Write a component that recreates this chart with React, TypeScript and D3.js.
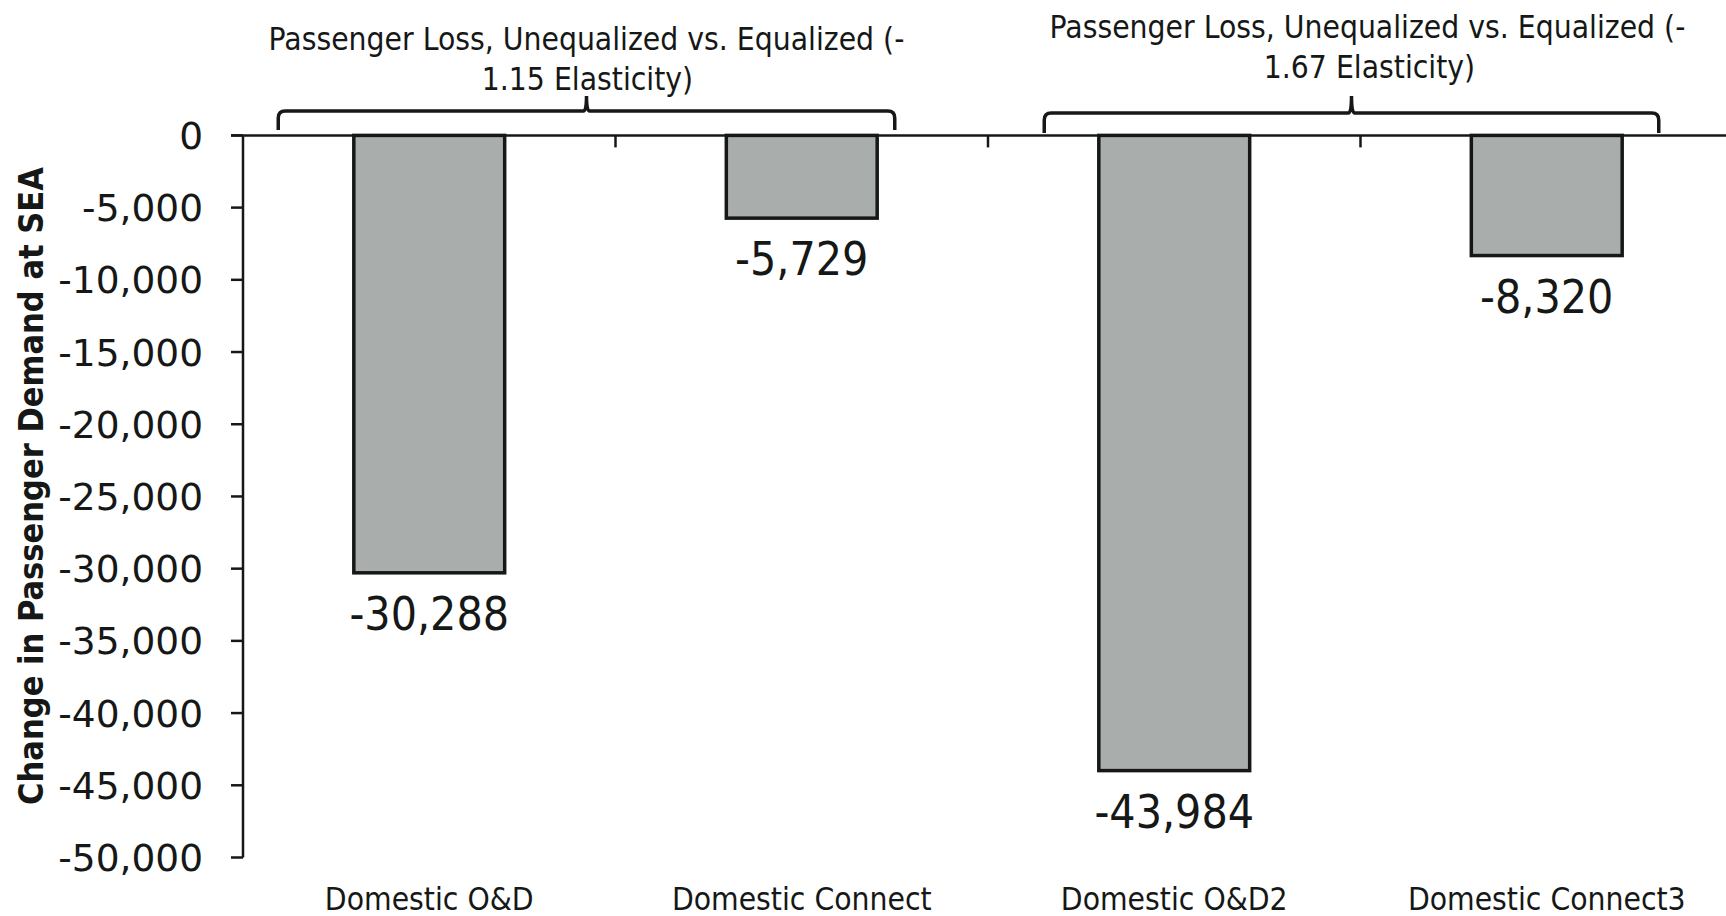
import React from "react";
import * as d3 from "d3";

const categories = ["Domestic O&D", "Domestic Connect", "Domestic O&D2", "Domestic Connect3"];
const values = [-30288, -5729, -43984, -8320];
const yTicks = [0, -5000, -10000, -15000, -20000, -25000, -30000, -35000, -40000, -45000, -50000];
const groupLines = [
  ["Passenger Loss, Unequalized vs. Equalized (-", "1.15 Elasticity)"],
  ["Passenger Loss, Unequalized vs. Equalized (-", "1.67 Elasticity)"],
];
const groupMembers = [
  [0, 1],
  [2, 3],
];
const yTitle = "Change in Passenger Demand at SEA";

const W = 1726;
const H = 916;
const COND = "'DejaVu Sans Condensed', 'DejaVu Sans', sans-serif";
const INK = "#151816";

const locale = d3.formatLocale({
  decimal: ".",
  thousands: ",",
  grouping: [3],
  currency: ["$", ""],
  minus: "-",
});

export default function App() {
  const y = d3.scaleLinear().domain([-50000, 0]).range([857.5, 135.4]);
  const x = d3.scaleBand<string>().domain(categories).range([243, 1733]).padding(0);
  const bw = x.bandwidth();
  const barW = bw * 0.405;
  const fmt = locale.format(",");
  const y0 = y(0);

  // bracket layout relative to bar centers
  const bracketCfg = [
    { l: -151, r: 93, hy: 111, notchTop: 96, endY: 130, t1: 50, t2: 90, dx1: 0, dx2: 1 },
    { l: -130, r: 112, hy: 113, notchTop: 96, endY: 133, t1: 38, t2: 78, dx1: 16, dx2: 18 },
  ];

  return (
    <svg
      width={W}
      height={H}
      style={{ position: "absolute", left: 0, top: 0, display: "block", background: "#fff" }}
    >
      <rect x={0} y={0} width={W} height={H} fill="#fff" />

      {/* bars */}
      {categories.map((c, i) => {
        const cx = (x(c) as number) + bw / 2;
        const v = values[i];
        return (
          <g key={c}>
            <rect
              x={cx - barW / 2}
              y={y(0)}
              width={barW}
              height={y(v) - y(0)}
              fill="#a9aeac"
              stroke={INK}
              strokeWidth={3.5}
            />
            <text
              x={cx}
              y={y(v) + 57}
              textAnchor="middle"
              fontFamily={COND}
              fontSize={46}
              fill={INK}
            >
              {fmt(v)}
            </text>
            <text
              x={cx}
              y={910}
              textAnchor="middle"
              fontFamily={COND}
              fontSize={31.5}
              fill={INK}
            >
              {c}
            </text>
          </g>
        );
      })}

      {/* zero line / x axis */}
      <line x1={231} x2={W} y1={y0} y2={y0} stroke={INK} strokeWidth={2.5} />
      {categories.slice(1).map((c) => (
        <line
          key={"xt" + c}
          x1={x(c) as number}
          x2={x(c) as number}
          y1={y0}
          y2={y0 + 12}
          stroke={INK}
          strokeWidth={2.5}
        />
      ))}

      {/* y axis */}
      <line x1={243} x2={243} y1={y0} y2={y(-50000)} stroke={INK} strokeWidth={2.5} />
      {yTicks.map((t) => (
        <g key={"yt" + t}>
          <line x1={231} x2={243} y1={y(t)} y2={y(t)} stroke={INK} strokeWidth={2.5} />
          <text
            x={203}
            y={y(t)}
            dy="0.36em"
            textAnchor="end"
            fontFamily="'DejaVu Sans', sans-serif"
            fontSize={37.5}
            fill={INK}
          >
            {fmt(t)}
          </text>
        </g>
      ))}

      {/* y title */}
      <text
        transform={`translate(43, 486) rotate(-90)`}
        textAnchor="middle"
        fontFamily={COND}
        fontWeight="bold"
        fontSize={34}
        fill={INK}
      >
        {yTitle}
      </text>

      {/* brackets + group labels */}
      {groupMembers.map((m, gi) => {
        const cfg = bracketCfg[gi];
        const c0 = (x(categories[m[0]]) as number) + bw / 2;
        const c1 = (x(categories[m[m.length - 1]]) as number) + bw / 2;
        const L = c0 + cfg.l;
        const R = c1 + cfg.r;
        const M = (L + R) / 2;
        const r = 7;
        const path =
          `M${L},${cfg.endY} L${L},${cfg.hy + r} Q${L},${cfg.hy} ${L + r},${cfg.hy} ` +
          `L${M - 3},${cfg.hy} Q${M},${cfg.hy} ${M},${cfg.notchTop} Q${M},${cfg.hy} ${M + 3},${cfg.hy} ` +
          `L${R - r},${cfg.hy} Q${R},${cfg.hy} ${R},${cfg.hy + r} L${R},${cfg.endY}`;
        return (
          <g key={"br" + gi}>
            <path d={path} fill="none" stroke={INK} strokeWidth={3.5} />
            <text
              x={M + cfg.dx1}
              y={cfg.t1}
              textAnchor="middle"
              fontFamily={COND}
              fontSize={31.5}
              fill={INK}
            >
              {groupLines[gi][0]}
            </text>
            <text
              x={M + cfg.dx2}
              y={cfg.t2}
              textAnchor="middle"
              fontFamily={COND}
              fontSize={31.5}
              fill={INK}
            >
              {groupLines[gi][1]}
            </text>
          </g>
        );
      })}
    </svg>
  );
}
